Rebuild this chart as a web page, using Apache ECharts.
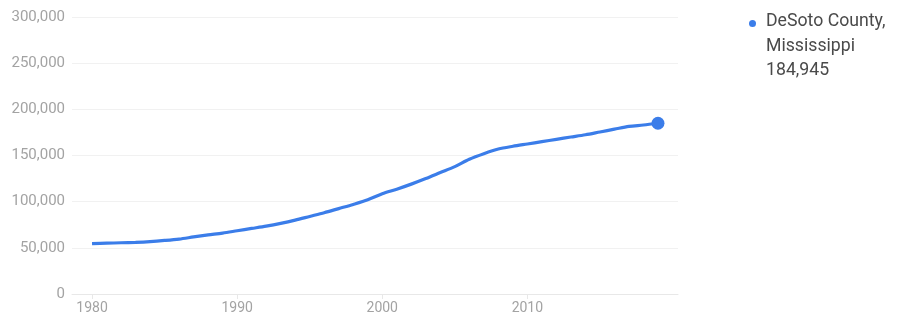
<!DOCTYPE html>
<html><head><meta charset="utf-8">
<script src="https://cdn.jsdelivr.net/npm/echarts@6/dist/echarts.min.js"></script>
<style>html,body{margin:0;padding:0;background:#fff}#c{width:897px;height:321px}</style>
</head><body><div id="c"></div>
<script>
const years = [1980,1981,1982,1983,1984,1985,1986,1987,1988,1989,1990,1991,1992,1993,1994,1995,1996,1997,1998,1999,2000,2001,2002,2003,2004,2005,2006,2007,2008,2009,2010,2011,2012,2013,2014,2015,2016,2017,2018,2019];
const population = [54500,55000,55500,56000,56800,58000,59500,61800,64000,66000,68500,71000,73500,76500,80000,84000,88000,92500,97000,102000,108500,113500,119000,125000,131500,138000,146000,152000,157000,160000,162500,165000,167500,170000,172500,175500,178500,181500,183000,184945];
const xTicks = [1980,1990,2000,2010];
const yTicks = [0,50000,100000,150000,200000,250000,300000];
const seriesName = 'DeSoto County, Mississippi';
const legendLines = ['DeSoto County,','Mississippi','184,945'];

const data = years.map((y,i)=>[y,population[i]]);
const fmt = v => v.toLocaleString('en-US');
const chart = echarts.init(document.getElementById('c'), null, {renderer:'canvas'});
chart.setOption({
  animation:false,
  backgroundColor:'#fff',
  grid:{left:72,right:219,top:17,bottom:27,containLabel:false},
  xAxis:{type:'value',min:1978.62,max:2020.38,
    axisLine:{show:true,lineStyle:{color:'#e8e8e8',width:1}},
    axisTick:{show:true,customValues:xTicks,length:5,lineStyle:{color:'#e8e8e8'}},
    axisLabel:{customValues:xTicks,color:'#a3a3a3',fontSize:14,fontFamily:'Roboto, Arial, sans-serif',margin:7,formatter:v=>String(v)},
    splitLine:{show:false}},
  yAxis:{type:'value',min:yTicks[0],max:yTicks[yTicks.length-1],interval:50000,
    axisLine:{show:false},axisTick:{show:false},
    axisLabel:{color:'#a3a3a3',fontSize:15,fontFamily:'Roboto, Arial, sans-serif',margin:7,formatter:v=>fmt(v)},
    splitLine:{show:true,lineStyle:{color:'#f1f1f1',width:1}}},
  legend:{show:true,left:744,top:15,orient:'vertical',icon:'circle',itemWidth:7,itemHeight:7,itemGap:0,
    formatter:()=>'',
    textStyle:{fontSize:1},
    data:[{name:seriesName}]},
  graphic:legendLines.map((t,i)=>({type:'text',x:766,y:22+i*24.5,
    style:{text:t,fill:'#4a4a4a',font:'17.7px Roboto, Arial, sans-serif',verticalAlign:'middle'}})),
  series:[{name:seriesName,type:'line',data:data,smooth:0.3,
    lineStyle:{color:'#3b7de9',width:3.2},itemStyle:{color:'#3b7de9'},
    symbol:'circle',symbolSize:(v,p)=>p.dataIndex===data.length-1?13:0,
    showSymbol:true,showAllSymbol:true}]
});
</script></body></html>
